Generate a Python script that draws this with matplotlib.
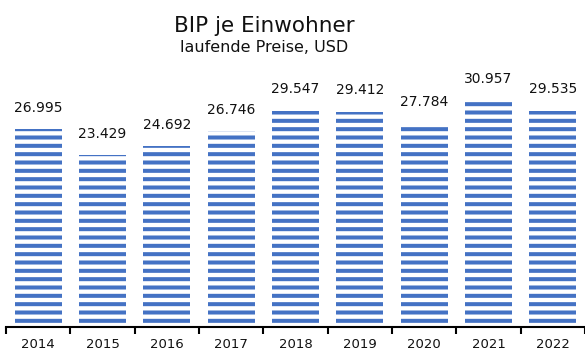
import matplotlib.pyplot as plt
import matplotlib.ticker as mticker

years = ["2014", "2015", "2016", "2017", "2018", "2019", "2020", "2021", "2022"]
gdp_per_capita = [26995, 23429, 24692, 26746, 29547, 29412, 27784, 30957, 29535]
value_labels = ["26.995", "23.429", "24.692", "26.746", "29.547", "29.412", "27.784", "30.957", "29.535"]

BLUE = "#4472C4"

plt.rcParams["font.family"] = ["DejaVu Sans"]
plt.rcParams["hatch.linewidth"] = 2.9

fig = plt.figure(figsize=(5.85, 3.51), dpi=100)
ax = fig.add_axes([6 / 585, (351 - 326.5) / 351, 1 - 6 / 585, 266.5 / 351])

x = list(range(len(years)))
ax.bar(x, gdp_per_capita, width=0.73, facecolor="white", edgecolor=BLUE,
       linewidth=0, hatch="--")

for xi, val, lab in zip(x, gdp_per_capita, value_labels):
    ax.annotate(lab, (xi, val), xytext=(0, 12.5), textcoords="offset points",
                ha="center", va="baseline", fontsize=10, color="#111111")

ax.set_xlim(-0.5, len(years) - 0.5)
ax.set_ylim(0, 36500)

# boundary ticks between the categories, labels centred under the bars
ax.xaxis.set_major_locator(mticker.FixedLocator([i - 0.5 for i in range(len(years) + 1)]))
ax.xaxis.set_major_formatter(mticker.NullFormatter())
ax.xaxis.set_minor_locator(mticker.FixedLocator(x))
ax.xaxis.set_minor_formatter(mticker.FixedFormatter(years))
ax.tick_params(axis="x", which="major", direction="out", length=5, width=1.5, color="black")
ax.tick_params(axis="x", which="minor", length=0, pad=8, labelsize=9.5, labelcolor="#111111")
ax.yaxis.set_visible(False)

for side in ["top", "right", "left"]:
    ax.spines[side].set_visible(False)
ax.spines["bottom"].set_linewidth(1.5)
ax.patch.set_alpha(0)

fig.text(264 / 585, 1 - 31.5 / 351, "BIP je Einwohner", ha="center", va="baseline",
         fontsize=15.5, color="#111111")
fig.text(264 / 585, 1 - 51.5 / 351, "laufende Preise, USD", ha="center", va="baseline",
         fontsize=11.5, color="#111111")

fig.savefig("out.png", dpi=100)
